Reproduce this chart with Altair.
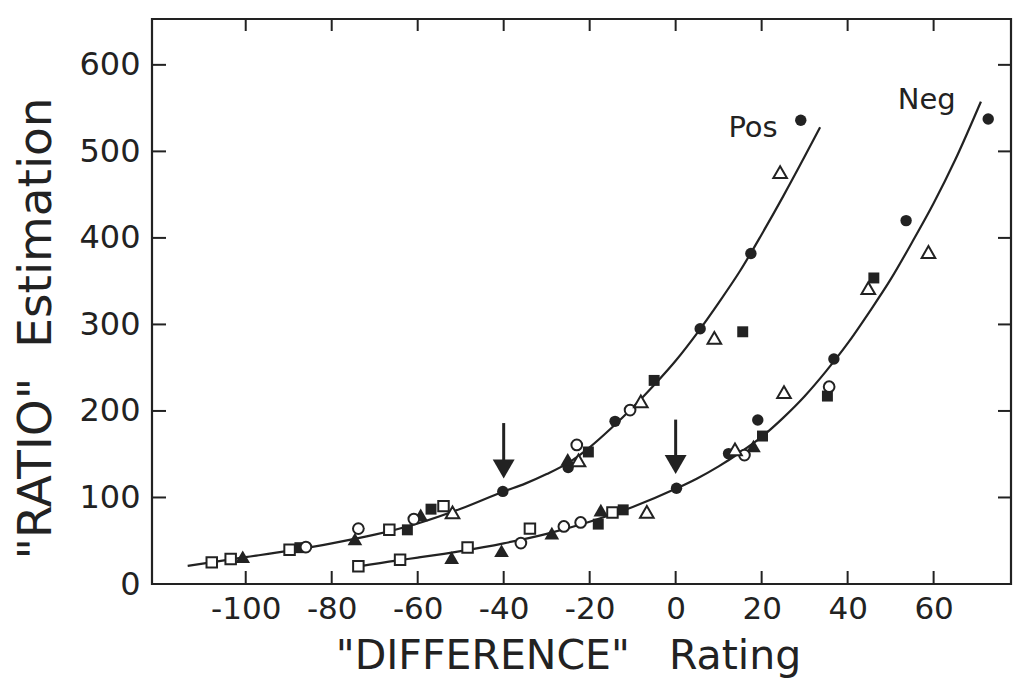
import altair as alt
import pandas as pd

# ---------------- data ----------------
# "Pos" condition points
pos_x = [-107.9, -103.5, -100.7, -89.8, -87.4, -86.0, -73.8, -74.6, -66.6, -62.4,
         -60.9, -59.3, -56.9, -54.0, -51.9, -40.2, -25.1, -25.0, -23.0, -22.6,
         -20.3, -14.1, -10.6, -8.1, -5.0, 5.7, 9.0, 15.6, 17.5, 24.3, 29.1]
pos_y = [25, 29, 31.5, 39.6, 42, 42.7, 64, 52, 62.6, 62.6,
         75, 80, 86.5, 90, 82.7, 107, 144, 134.6, 160.7, 143,
         152.6, 188, 201, 211, 235.3, 295, 284.5, 291.5, 382, 476, 536]
pos_shape = ["square", "square", "triangle-up", "square", "square", "circle", "circle", "triangle-up", "square", "square",
             "circle", "triangle-up", "square", "square", "triangle-up", "circle", "triangle-up", "circle", "circle", "triangle-up",
             "square", "circle", "circle", "triangle-up", "square", "circle", "triangle-up", "square", "circle", "triangle-up", "circle"]
pos_filled = [0, 0, 1, 0, 1, 0, 0, 1, 0, 1,
              0, 1, 1, 0, 0, 1, 1, 1, 0, 0,
              1, 1, 0, 0, 1, 1, 0, 1, 1, 0, 1]

# "Neg" condition points
neg_x = [-73.8, -64.1, -52.1, -48.4, -40.5, -36.0, -33.9, -28.8, -26.0, -22.1,
         -18.0, -17.4, -14.7, -12.2, -6.7, 0.2, 12.3, 13.8, 16.0, 18.1,
         19.1, 20.2, 25.2, 35.3, 35.7, 36.8, 44.8, 46.1, 53.6, 58.8, 72.7]
neg_y = [20.4, 28, 30.4, 42.3, 38.4, 47.3, 64, 58.8, 66.5, 71.1,
         69.2, 85.4, 82.7, 85.7, 83.4, 110.7, 150.7, 155.7, 149, 159.5,
         189.5, 171, 221.8, 217.2, 228, 260, 342, 353.7, 420, 383.7, 537.5]
neg_shape = ["square", "square", "triangle-up", "square", "triangle-up", "circle", "square", "triangle-up", "circle", "circle",
             "square", "triangle-up", "square", "square", "triangle-up", "circle", "circle", "triangle-up", "circle", "triangle-up",
             "circle", "square", "triangle-up", "square", "circle", "circle", "triangle-up", "square", "circle", "triangle-up", "circle"]
neg_filled = [0, 0, 1, 0, 1, 0, 0, 1, 0, 0,
              1, 1, 0, 1, 0, 1, 1, 0, 0, 1,
              1, 1, 0, 1, 0, 1, 0, 1, 1, 0, 1]

# fitted curves
pos_curve_x = [-113.5, -100, -90, -80, -70, -60, -50, -40, -35, -30, -25, -20, -15,
               -10, -5, 0, 5, 10, 15, 20, 25, 30, 33.6]
pos_curve_y = [21, 31, 38.5, 47, 57, 70, 87, 107, 116, 127, 140, 158, 180,
               204, 230, 258, 290, 325, 362, 404, 448, 494, 528]
neg_curve_x = [-74, -65, -60, -50, -40, -30, -20, -10, 0, 5, 10, 15, 20, 25, 30,
               35, 40, 45, 50, 55, 60, 65, 71]
neg_curve_y = [20, 27, 30.5, 38, 47, 58, 72, 89, 110, 122, 136, 152, 170, 192, 217,
               246, 278, 314, 352, 395, 440, 490, 557.5]

# arrows
arrow_x = [-40, 0]
arrow_top = [186, 190]
arrow_head = [133, 138]

# labels
label_text = ["Pos", "Neg"]
label_x = [18, 58.4]
label_y = [527, 559]

x_ticks = [-100, -80, -60, -40, -20, 0, 20, 40, 60]
y_ticks = [0, 100, 200, 300, 400, 500, 600]
y_inner_ticks = [100, 200, 300, 400, 500, 600]

INK = "#222222"
W, H = 859, 565
NB = "\u00a0"

pts = pd.DataFrame({
    "x": pos_x + neg_x,
    "y": pos_y + neg_y,
    "shape": pos_shape + neg_shape,
    "filled": pos_filled + neg_filled,
})
curves = pd.DataFrame({
    "x": pos_curve_x + neg_curve_x,
    "y": pos_curve_y + neg_curve_y,
    "series": ["Pos"] * len(pos_curve_x) + ["Neg"] * len(neg_curve_x),
})
arrows = pd.DataFrame({"x": arrow_x, "top": arrow_top, "head": arrow_head})
labels = pd.DataFrame({"text": label_text, "x": label_x, "y": label_y})
xt = pd.DataFrame({"v": x_ticks})
yt = pd.DataFrame({"v": y_inner_ticks})

xscale = alt.Scale(domain=[-121.8, 78], nice=False, zero=False)
yscale = alt.Scale(domain=[0, 653], nice=False)

X = alt.X("x:Q", scale=xscale, axis=alt.Axis(
    values=x_ticks, ticks=False, domain=False, grid=False,
    labelExpr="'' + datum.value",
    labelFont="DejaVu Sans", labelFontSize=31, labelColor=INK, labelPadding=10,
    title='"DIFFERENCE"' + NB * 3 + 'Rating', titleFont="DejaVu Sans", titleFontSize=41,
    titleFontWeight="normal", titleColor=INK, titleX=416, titleY=72,
    titleAlign="center", titleBaseline="middle"))
Y = alt.Y("y:Q", scale=yscale, axis=alt.Axis(
    values=y_ticks, ticks=False, domain=False, grid=False,
    labelFont="DejaVu Sans", labelFontSize=32, labelColor=INK, labelPadding=12,
    title='"RATIO"' + NB * 2 + 'Estimation', titleFont="DejaVu Sans", titleFontSize=47,
    titleFontWeight="normal", titleColor=INK, titleX=-116, titleY=309,
    titleAngle=-90, titleAlign="center", titleBaseline="middle"))

base_curve = alt.Chart(curves).mark_line(
    color=INK, strokeWidth=2.2, interpolate="monotone"
).encode(x=X, y=Y, detail="series:N")

# marker styles: (shape, filled) -> size
marker_sizes = {
    ("circle", 1): 130, ("square", 1): 120, ("triangle-up", 1): 215,
    ("circle", 0): 115, ("square", 0): 110, ("triangle-up", 0): 185,
}
marker_layers = []
for (shp, fl), sz in marker_sizes.items():
    sub = alt.Chart(pts).transform_filter(
        f"datum.shape == '{shp}' && datum.filled == {fl}")
    if fl:
        m = sub.mark_point(shape=shp, filled=True, color=INK, size=sz, opacity=1)
    else:
        m = sub.mark_point(shape=shp, filled=True, fill="white", stroke=INK,
                           strokeWidth=2, size=sz, opacity=1)
    marker_layers.append(m.encode(x="x:Q", y="y:Q"))

arrow_shaft = alt.Chart(arrows).mark_rule(color=INK, strokeWidth=3).encode(
    x="x:Q", y="top:Q", y2="head:Q")
arrow_tip = alt.Chart(arrows).mark_point(
    shape="triangle-down", filled=True, color=INK, size=480, opacity=1
).encode(x="x:Q", y="head:Q")

text = alt.Chart(labels).mark_text(
    font="DejaVu Sans", fontSize=29, color=INK, align="center", baseline="middle"
).encode(x="x:Q", y="y:Q", text="text:N")

tick_w = 2
left_ticks = alt.Chart(yt).mark_rule(color=INK, strokeWidth=tick_w).encode(
    y="v:Q", x=alt.value(0), x2=alt.value(14))
right_ticks = alt.Chart(yt).mark_rule(color=INK, strokeWidth=tick_w).encode(
    y="v:Q", x=alt.value(W), x2=alt.value(W - 13))
bottom_ticks = alt.Chart(xt).mark_rule(color=INK, strokeWidth=tick_w).encode(
    x="v:Q", y=alt.value(H), y2=alt.value(H - 13))
top_ticks = alt.Chart(xt).mark_rule(color=INK, strokeWidth=tick_w).encode(
    x="v:Q", y=alt.value(0), y2=alt.value(12))

chart = alt.layer(
    base_curve, left_ticks, right_ticks, bottom_ticks, top_ticks,
    arrow_shaft, arrow_tip, *marker_layers, text
).properties(
    width=W, height=H,
    autosize=alt.AutoSizeParams(type="none"),
    padding={"left": 152, "top": 19, "right": 2, "bottom": 102},
    background="white",
).configure_view(stroke=INK, strokeWidth=2.2)

chart.save("out.html", embed_options={"renderer": "svg", "actions": False})
